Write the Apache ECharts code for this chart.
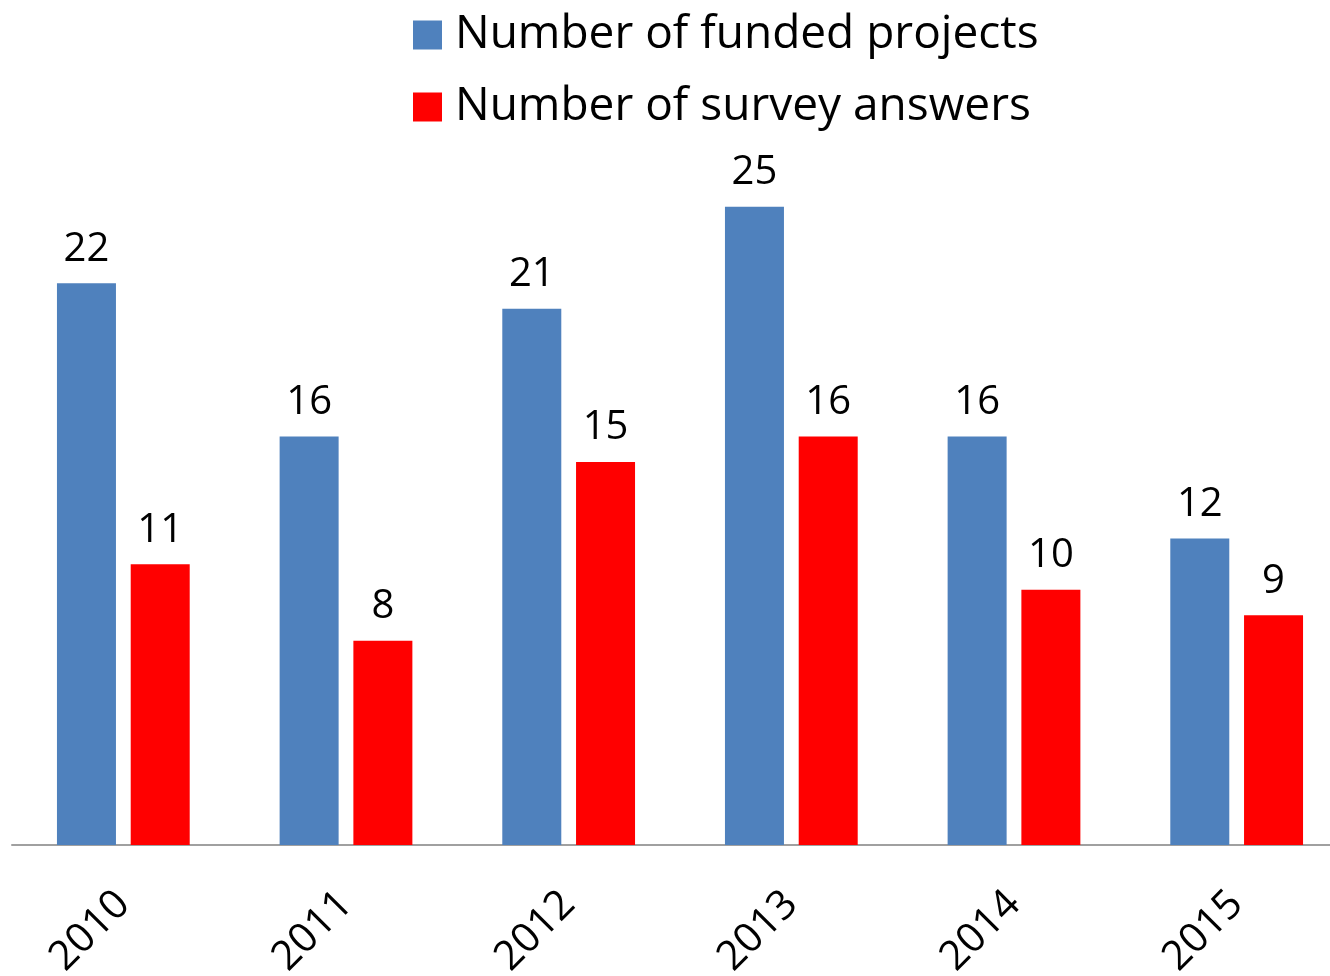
<!DOCTYPE html>
<html>
<head>
<meta charset="utf-8">
<script src="https://cdn.jsdelivr.net/npm/echarts@6/dist/echarts.min.js"></script>
<style>
  html, body { margin: 0; padding: 0; background: #fff; }
  #chart { width: 1330px; height: 976px; }
</style>
</head>
<body>
<div id="chart"></div>
<script>
// years on the x axis
const years = ['2010', '2011', '2012', '2013', '2014', '2015'];
// series values
const fundedProjects = [22, 16, 21, 25, 16, 12];
const surveyAnswers = [11, 8, 15, 16, 10, 9];

const FONT = '"Open Sans", "Liberation Sans", sans-serif';

const chart = echarts.init(document.getElementById('chart'));

chart.setOption({
  animation: false,
  backgroundColor: '#ffffff',
  legend: {
    orient: 'vertical',
    left: 408,
    top: 4,
    itemWidth: 29,
    itemHeight: 29,
    itemGap: 20,
    icon: 'rect',
    textStyle: { fontFamily: FONT, fontSize: 46, color: '#000', lineHeight: 52, padding: [0, 0, 0, 8] },
    data: ['Number of funded projects', 'Number of survey answers']
  },
  // axis runs past the right edge like in the original picture
  grid: { left: 12, top: 79, width: 1336, height: 766, containLabel: false, outerBoundsMode: 'none' },
  xAxis: {
    type: 'category',
    data: years,
    axisLine: { show: true, lineStyle: { color: '#a0a0a0', width: 2 } },
    axisTick: { show: false },
    axisLabel: {
      rotate: 45,
      margin: 53,
      fontFamily: FONT,
      fontSize: 41,
      color: '#000'
    }
  },
  yAxis: {
    type: 'value',
    min: 0,
    max: 30,
    show: false,
    splitLine: { show: false }
  },
  series: [
    {
      name: 'Number of funded projects',
      type: 'bar',
      data: fundedProjects,
      barWidth: 59,
      barGap: '25%',
      itemStyle: { color: '#4f81bd' },
      label: { show: true, position: 'top', distance: 14, fontFamily: FONT, fontSize: 40, color: '#000' }
    },
    {
      name: 'Number of survey answers',
      type: 'bar',
      data: surveyAnswers,
      barWidth: 59,
      barGap: '25%',
      itemStyle: { color: '#ff0000' },
      label: { show: true, position: 'top', distance: 14, fontFamily: FONT, fontSize: 40, color: '#000' }
    }
  ]
});
</script>
</body>
</html>
